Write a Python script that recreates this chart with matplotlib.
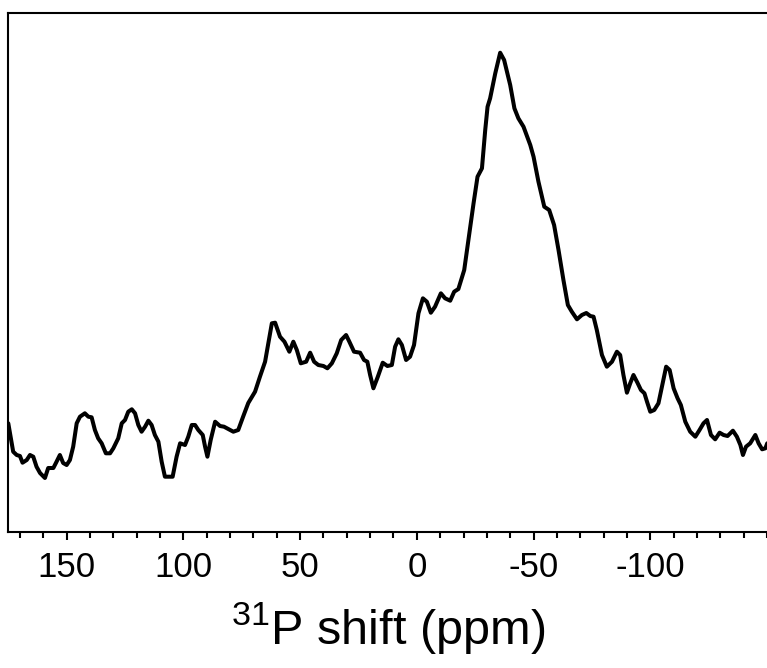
import numpy as np
import matplotlib
matplotlib.use('Agg')
import matplotlib.pyplot as plt
from matplotlib.ticker import MultipleLocator

plt.rcParams['font.family'] = ['Liberation Sans', 'DejaVu Sans']
plt.rcParams['mathtext.fontset'] = 'custom'
plt.rcParams['mathtext.rm'] = 'Liberation Sans'
plt.rcParams['mathtext.default'] = 'regular'

# 31P spectrum: chemical shift (ppm) and intensity (a.u.)
shift_ppm = [
    175.0, 172.9, 171.4, 170.0, 168.9, 167.1, 165.7, 164.3, 162.9, 161.4,
    159.3, 157.9, 155.7, 154.6, 152.9, 151.5, 150.0, 148.6, 147.2, 145.7,
    144.3, 142.2, 140.7, 139.3, 137.9, 136.5, 135.0, 133.2, 131.4, 130.0,
    127.9, 126.4, 125.0, 123.6, 122.1, 120.7, 119.3, 117.9, 116.4, 115.0,
    113.6, 112.2, 110.7, 109.3, 107.9, 106.5, 104.6, 102.9, 101.4, 99.3,
    97.9, 96.4, 95.0, 93.6, 91.7, 90.7, 89.7, 88.3, 86.4, 84.3,
    82.6, 80.0, 78.6, 76.5, 74.3, 72.2, 69.3, 67.2, 65.0, 63.6,
    62.1, 60.7, 58.6, 56.7, 54.6, 52.9, 51.4, 49.7, 47.4, 45.7,
    44.0, 42.2, 40.0, 38.3, 36.4, 34.3, 32.4, 30.3, 28.9, 26.9,
    24.3, 22.6, 21.2, 20.0, 18.6, 16.7, 14.6, 12.6, 10.7, 9.3,
    7.9, 6.4, 4.6, 2.9, 1.2, -0.7, -2.6, -4.3, -6.0, -7.8,
    -10.3, -12.1, -14.3, -16.0, -17.8, -20.3, -22.1, -24.3, -26.0, -27.9,
    -29.3, -30.3, -31.4, -33.6, -35.7, -37.4, -40.0, -41.8, -43.5, -45.7,
    -48.6, -50.0, -52.1, -54.6, -56.7, -58.8, -60.7, -62.8, -64.7, -66.4,
    -68.6, -70.7, -72.6, -74.3, -75.7, -77.1, -79.3, -81.4, -83.6, -85.7,
    -87.1, -88.5, -90.0, -91.4, -92.8, -94.5, -96.0, -97.5, -98.6, -100.0,
    -101.7, -103.5, -105.0, -106.8, -108.3, -110.0, -111.7, -113.1, -115.0, -117.1,
    -119.3, -121.1, -122.8, -124.3, -126.0, -127.8, -129.7, -131.4, -133.1, -135.4,
    -137.1, -138.6, -139.7, -141.0, -142.8, -145.0, -146.4, -147.9, -149.3, -150.1,
]
intensity = [
    108.7, 80.3, 77.0, 76.0, 69.3, 72.0, 77.0, 75.3, 65.3, 59.0,
    54.0, 64.0, 64.0, 69.0, 77.0, 69.0, 67.0, 72.0, 85.3, 108.7,
    115.3, 118.7, 115.3, 114.7, 102.0, 93.7, 88.7, 78.7, 78.7, 83.7,
    93.7, 108.7, 112.0, 120.3, 122.7, 118.7, 107.0, 100.3, 105.3, 111.3,
    107.0, 97.0, 90.3, 70.3, 55.3, 55.3, 55.3, 75.3, 88.7, 87.0,
    95.3, 107.0, 107.0, 102.0, 97.0, 85.3, 75.3, 92.0, 110.3, 106.0,
    105.3, 102.0, 100.3, 102.0, 116.0, 129.0, 140.3, 155.3, 170.3, 188.7,
    208.7, 209.3, 195.3, 190.3, 180.3, 190.3, 182.0, 168.7, 170.3, 179.3,
    170.3, 167.0, 166.0, 163.7, 168.7, 178.7, 192.0, 197.0, 190.3, 180.3,
    179.3, 172.0, 170.3, 157.0, 143.7, 155.3, 169.3, 166.0, 167.0, 185.3,
    192.7, 187.0, 172.0, 175.3, 187.0, 218.7, 233.7, 230.3, 219.3, 225.3,
    238.7, 233.7, 231.3, 240.3, 243.0, 262.0, 292.0, 328.7, 355.3, 363.7,
    402.0, 425.3, 433.7, 458.7, 479.3, 472.0, 447.0, 423.7, 413.7, 405.3,
    387.0, 375.3, 350.3, 325.3, 322.0, 307.0, 282.0, 252.0, 227.0, 220.3,
    212.7, 217.0, 219.0, 216.0, 215.3, 202.0, 177.0, 165.3, 170.3, 180.3,
    177.0, 157.0, 139.3, 148.7, 157.0, 149.3, 142.0, 138.7, 130.3, 120.3,
    122.0, 128.7, 145.3, 165.3, 162.0, 143.7, 133.7, 127.0, 110.3, 100.3,
    95.3, 102.0, 108.7, 112.0, 97.0, 92.7, 99.3, 97.0, 96.0, 101.3,
    95.3, 87.0, 77.0, 85.3, 88.7, 97.0, 88.7, 82.7, 83.7, 88.7,
]

x_ticks = [150, 100, 50, 0, -50, -100]

fig = plt.figure(figsize=(7.67, 6.68), dpi=100)
ax = fig.add_axes([0.0108, 0.2036, 0.9892, 0.7769])

ax.plot(shift_ppm, intensity, color='black', lw=2.9,
        solid_joinstyle='round', solid_capstyle='round')

ax.set_xlim(175, -150)
ax.set_ylim(0, 519)
ax.set_xticks(x_ticks)
ax.set_xticklabels([str(t) for t in x_ticks])
ax.xaxis.set_minor_locator(MultipleLocator(10))
ax.set_yticks([])

for side in ['left', 'top', 'bottom']:
    ax.spines[side].set_linewidth(1.5)
ax.spines['right'].set_visible(False)

ax.tick_params(axis='x', which='major', direction='out', length=6, width=1.5,
               labelsize=25, pad=8)
ax.tick_params(axis='x', which='minor', direction='out', length=4, width=1.5)

ax.set_xlabel(r'$^{31}$P shift (ppm)', fontsize=35, labelpad=11)

fig.savefig('out.png', dpi=100)
